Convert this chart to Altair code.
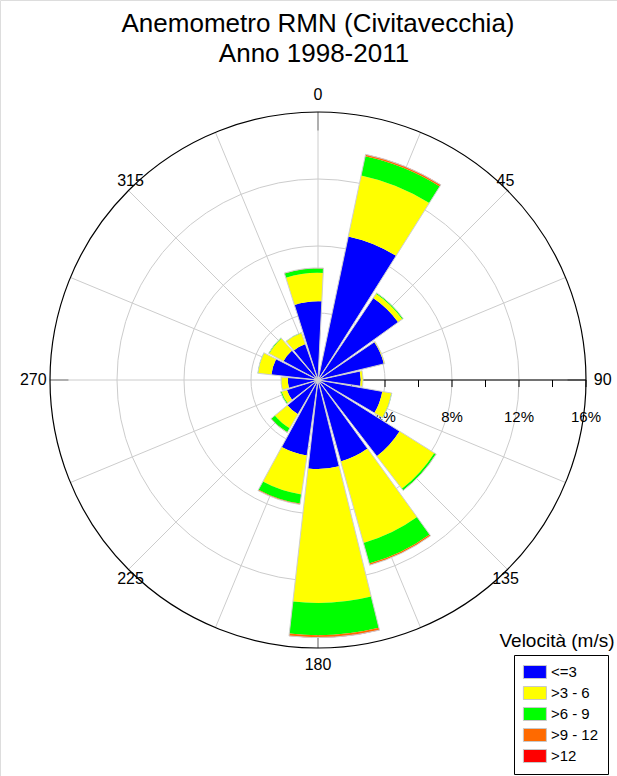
import math
import altair as alt
import pandas as pd

# Wind rose: frequency (%) of each speed class per direction sector (N = 360)
directions = [22.5, 45, 67.5, 90, 112.5, 135, 157.5, 180,
              202.5, 225, 247.5, 270, 292.5, 315, 337.5, 360]
freq_le3 = [8.76, 5.90, 4.05, 2.55, 3.90, 5.75, 5.05, 5.31,
            4.55, 2.37, 1.95, 1.80, 2.80, 2.35, 2.28, 4.70]
freq_3_6 = [3.72, 0.30, 0.06, 0.14, 0.55, 2.45, 5.05, 8.00,
            2.35, 0.97, 0.33, 0.40, 0.80, 0.95, 0.70, 1.70]
freq_6_9 = [1.17, 0.07, 0.00, 0.00, 0.03, 0.12, 1.28, 1.92,
            0.55, 0.28, 0.07, 0.01, 0.02, 0.05, 0.02, 0.27]
freq_9_12 = [0.10, 0.00, 0.00, 0.00, 0.00, 0.01, 0.09, 0.13,
             0.06, 0.02, 0.00, 0.00, 0.00, 0.00, 0.00, 0.02]
freq_gt12 = [0.02, 0.00, 0.00, 0.00, 0.00, 0.00, 0.01, 0.02,
             0.00, 0.00, 0.00, 0.00, 0.00, 0.00, 0.00, 0.00]

speed_classes = ["<=3", ">3 - 6", ">6 - 9", ">9 - 12", ">12"]
class_colors = ["#0000ff", "#ffff00", "#00ff00", "#ff6a00", "#ff0000"]

ring_values = [4, 8, 12]
outer_ring = [16]
spoke_angles = [0, 22.5, 45, 67.5, 90, 112.5, 135, 157.5,
                180, 202.5, 225, 247.5, 270, 292.5, 315, 337.5]
cardinal_angles = [0, 90, 180, 270]
label_angles = [0, 45, 90, 135, 180, 225, 270, 315]
tick_values = [2, 4, 6, 8, 10, 12, 14, 16]
tick_label_values = [4, 8, 12, 16]
title_lines = ["Anemometro RMN (Civitavecchia)", "Anno 1998-2011"]
legend_title = "Velocità (m/s)"

FONT = "Liberation Sans"
GRID = "#cccccc"

# long table: one row per (direction, speed class)
series = [freq_le3, freq_3_6, freq_6_9, freq_9_12, freq_gt12]
rows = []
for i, d in enumerate(directions):
    for k, cls in enumerate(speed_classes):
        rows.append({"dir": d, "cls": cls, "order": k, "v": series[k][i]})
bars_df = pd.DataFrame(rows)

# scales
R_SCALE = alt.Scale(type="linear", domain=[0, 16], range=[0, 268], nice=False, zero=True)
T_SCALE = alt.Scale(type="linear", domain=[0, 367.5], range=[0, 2 * math.pi], nice=False, zero=True)
X_SCALE = alt.Scale(type="linear", domain=[-16, 16], range=[50, 586], nice=False, zero=False)
Y_SCALE = alt.Scale(type="linear", domain=[-16, 16], range=[648, 112], nice=False, zero=False)


def cx():
    return alt.X(datum=0, type="quantitative", scale=X_SCALE, axis=None)


def cy():
    return alt.Y(datum=0, type="quantitative", scale=Y_SCALE, axis=None)


HALF = 10.35  # half angular width of each sector bar

# concentric grid circles
rings = alt.Chart(pd.DataFrame({"r": ring_values})).mark_arc(
    fillOpacity=0, stroke=GRID, strokeWidth=1
).encode(
    x=cx(), y=cy(),
    theta=alt.value(0), theta2=alt.value(2 * math.pi),
    radius=alt.Radius("r:Q", scale=R_SCALE, stack=None),
)

outer = alt.Chart(pd.DataFrame({"r": outer_ring})).mark_arc(
    fillOpacity=0, stroke="black", strokeWidth=1.2
).encode(
    x=cx(), y=cy(),
    theta=alt.value(0), theta2=alt.value(2 * math.pi),
    radius=alt.Radius("r:Q", scale=R_SCALE, stack=None),
)

# radial spokes
spokes = alt.Chart(pd.DataFrame({"a": spoke_angles})).transform_calculate(
    ox="0", oy="0",
    ex="16 * sin(datum.a * PI / 180)",
    ey="16 * cos(datum.a * PI / 180)",
).mark_rule(color=GRID, strokeWidth=1).encode(
    x=alt.X("ox:Q", scale=X_SCALE, axis=None),
    y=alt.Y("oy:Q", scale=Y_SCALE, axis=None),
    x2="ex:Q", y2="ey:Q",
)

# darker inner ticks at the cardinal points
cardinal_ticks = alt.Chart(pd.DataFrame({"a": cardinal_angles})).transform_calculate(
    sx="14.9 * sin(datum.a * PI / 180)",
    sy="14.9 * cos(datum.a * PI / 180)",
    ex="16 * sin(datum.a * PI / 180)",
    ey="16 * cos(datum.a * PI / 180)",
).mark_rule(color="#8a8a8a", strokeWidth=1.2).encode(
    x=alt.X("sx:Q", scale=X_SCALE, axis=None),
    y=alt.Y("sy:Q", scale=Y_SCALE, axis=None),
    x2="ex:Q", y2="ey:Q",
)

# radial axis along 90 degrees
axis_line = alt.Chart(pd.DataFrame({"x0": [0], "x1": [16]})).transform_calculate(
    y0="0"
).mark_rule(color="black", strokeWidth=1).encode(
    x=alt.X("x0:Q", scale=X_SCALE, axis=None),
    x2="x1:Q",
    y=alt.Y("y0:Q", scale=Y_SCALE, axis=None),
)

axis_ticks = alt.Chart(pd.DataFrame({"v": tick_values})).transform_calculate(
    y0="0", y1="-0.42"
).mark_rule(color="black", strokeWidth=1).encode(
    x=alt.X("v:Q", scale=X_SCALE, axis=None),
    y=alt.Y("y0:Q", scale=Y_SCALE, axis=None),
    y2="y1:Q",
)

axis_labels = alt.Chart(pd.DataFrame({"v": tick_label_values})).transform_calculate(
    ly="-2.19", txt="datum.v + '%'"
).mark_text(font=FONT, fontSize=15, color="black", align="center", baseline="middle").encode(
    x=alt.X("v:Q", scale=X_SCALE, axis=None),
    y=alt.Y("ly:Q", scale=Y_SCALE, axis=None),
    text="txt:N",
)

# compass labels around the outer circle
dir_labels = alt.Chart(pd.DataFrame({"a": label_angles})).transform_calculate(
    rr="datum.a % 90 == 0 ? 17.0 : 16.0",
    off="datum.a % 90 == 0 ? 0 : (cos(datum.a * PI / 180) > 0 ? 0.57 : -0.57)",
).transform_calculate(
    lx="datum.rr * sin(datum.a * PI / 180) - (datum.a % 90 == 0 ? 0 : 0.12 * (sin(datum.a * PI / 180) > 0 ? 1 : -1))",
    ly="datum.rr * cos(datum.a * PI / 180) + datum.off",
    txt="'' + datum.a",
).mark_text(font=FONT, fontSize=16, color="black", align="center", baseline="middle").encode(
    x=alt.X("lx:Q", scale=X_SCALE, axis=None),
    y=alt.Y("ly:Q", scale=Y_SCALE, axis=None),
    text="txt:N",
)

# stacked speed-class segments
segments = alt.Chart(bars_df).transform_window(
    r1="sum(v)", groupby=["dir"], sort=[alt.SortField("order")]
).transform_calculate(
    r0="datum.r1 - datum.v",
    t0=f"datum.dir - {HALF}",
    t1=f"datum.dir + {HALF}",
).transform_filter("datum.v > 0").mark_arc(strokeWidth=0).encode(
    x=cx(), y=cy(),
    theta=alt.Theta("t0:Q", scale=T_SCALE, stack=None),
    theta2="t1:Q",
    radius=alt.Radius("r1:Q", scale=R_SCALE, stack=None),
    radius2="r0:Q",
    fill=alt.Fill(
        "cls:N",
        scale=alt.Scale(domain=speed_classes, range=class_colors),
        legend=alt.Legend(
            title=None, orient="none", direction="vertical",
            legendX=514, legendY=655,
            strokeColor="black", fillColor="white", padding=9.5,
            symbolType="M-1.77,-1L1.77,-1L1.77,1L-1.77,1Z", symbolSize=169,
            symbolStrokeColor="#c8c8c8", symbolStrokeWidth=1,
            symbolOffset=3.9, labelOffset=8.5, rowPadding=4,
            labelFont=FONT, labelFontSize=15, labelColor="black",
        ),
    ),
)

# light outline around each sector bar
outlines = alt.Chart(bars_df).transform_aggregate(
    total="sum(v)", groupby=["dir"]
).transform_calculate(
    t0=f"datum.dir - {HALF}",
    t1=f"datum.dir + {HALF}",
).mark_arc(fillOpacity=0, stroke="#cfcfcf", strokeWidth=1).encode(
    x=cx(), y=cy(),
    theta=alt.Theta("t0:Q", scale=T_SCALE, stack=None),
    theta2="t1:Q",
    radius=alt.Radius("total:Q", scale=R_SCALE, stack=None),
)

title1 = alt.Chart(pd.DataFrame({"t": [title_lines[0]]})).mark_text(
    font=FONT, fontSize=26, color="black", align="center", baseline="alphabetic"
).encode(x=alt.value(318), y=alt.value(32), text="t:N")

title2 = alt.Chart(pd.DataFrame({"t": [title_lines[1]]})).mark_text(
    font=FONT, fontSize=26, color="black", align="center", baseline="alphabetic"
).encode(x=alt.value(314), y=alt.value(62), text="t:N")

legend_head = alt.Chart(pd.DataFrame({"t": [legend_title]})).mark_text(
    font=FONT, fontSize=19, color="black", align="center", baseline="alphabetic"
).encode(x=alt.value(557), y=alt.value(647), text="t:N")

chart = alt.layer(
    rings, spokes, cardinal_ticks, outer, axis_line, axis_ticks, axis_labels,
    dir_labels, segments, outlines, title1, title2, legend_head,
).properties(
    width=617, height=776,
    autosize=alt.AutoSizeParams(type="none"),
    padding=0,
).configure_view(strokeWidth=0).configure(font=FONT)

chart.save("out.html", embed_options={"renderer": "svg", "actions": False})
